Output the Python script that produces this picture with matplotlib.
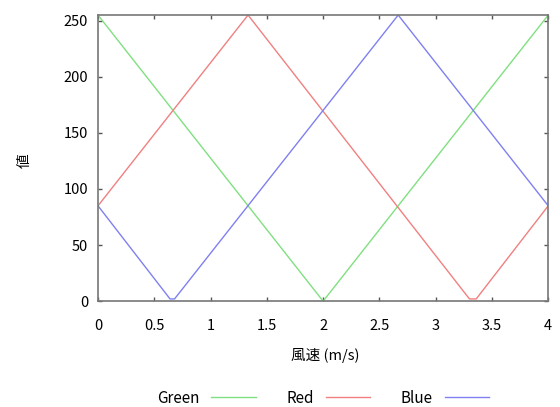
import matplotlib
matplotlib.use('agg')
import matplotlib.pyplot as plt

plt.rcParams['font.family'] = ['Noto Sans CJK JP', 'DejaVu Sans']

# vertices of each colour channel against wind speed
green_x = [0, 2.0, 4.0]
green_y = [255, 0, 255]
red_x = [0, 1.333, 3.30, 3.36, 4.0]
red_y = [85, 255, 2, 2, 85]
blue_x = [0, 0.64, 0.68, 2.667, 4.0]
blue_y = [85, 2, 2, 255, 85]

xticks = [0, 0.5, 1, 1.5, 2, 2.5, 3, 3.5, 4]
xtick_labels = ['0', '0.5', '1', '1.5', '2', '2.5', '3', '3.5', '4']
yticks = [0, 50, 100, 150, 200, 250]

fig = plt.figure(figsize=(5.6, 4.07), dpi=100)
ax = fig.add_axes([0.175, 0.26, 0.804, 0.703])

ax.plot(green_x, green_y, color='#80e080', lw=1.0, label='Green')
ax.plot(red_x, red_y, color='#f08080', lw=1.0, label='Red')
ax.plot(blue_x, blue_y, color='#8080f0', lw=1.0, label='Blue')

ax.set_xlim(0, 4)
ax.set_ylim(0, 255)
ax.set_xticks(xticks)
ax.set_xticklabels(xtick_labels)
ax.set_yticks(yticks)
ax.tick_params(direction='in', length=3, width=1, color='#555555',
               labelsize=10.5, top=True, right=True)
ax.tick_params(axis='x', pad=13)
ax.tick_params(axis='y', pad=7)
for s in ax.spines.values():
    s.set_color('#777777')
    s.set_linewidth(1.2)

ax.set_xlabel('風速 (m/s)', fontsize=10.5)
ax.xaxis.set_label_coords(0.505, -0.165)
ax.set_ylabel('値', fontsize=10.5)
ax.yaxis.set_label_coords(-0.147, 0.49)

fig.legend(loc='center', bbox_to_anchor=(0.577, 0.022), ncol=3,
           frameon=False, markerfirst=False, fontsize=11,
           handlelength=2.9, columnspacing=2.0, handletextpad=0.8)

fig.savefig('out.png', dpi=100)
